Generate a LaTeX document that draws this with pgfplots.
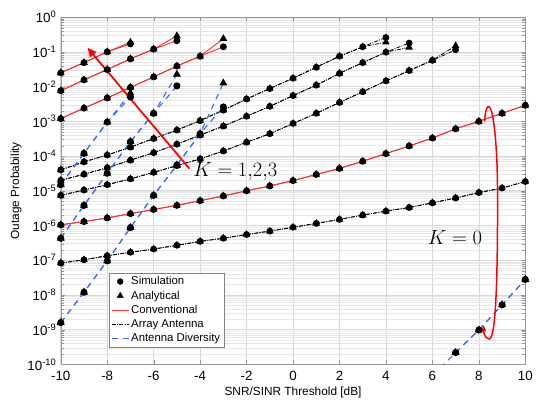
\documentclass[border=0pt]{standalone}
\usepackage{fontspec}
\setmainfont{Liberation Sans}
\usepackage{pgfplots}
\pgfplotsset{compat=1.18}
\usetikzlibrary{arrows.meta}

\definecolor{convred}{RGB}{245,45,45}
\definecolor{divblue}{RGB}{55,105,255}
\definecolor{gridgray}{RGB}{215,215,215}

\pgfplotsset{
  conv/.style={convred, line width=0.9bp, forget plot},
  arr/.style={black, line width=0.8bp, dash pattern=on 4bp off 1.3bp on 1bp off 1.3bp, forget plot},
  div/.style={divblue, line width=1.1bp, dash pattern=on 6bp off 5bp, forget plot},
  sim/.style={mark=*, mark size=3bp, mark options={solid, fill=black, draw=black}},
  ana/.style={mark=triangle*, mark size=3.6bp, mark options={solid, fill=black, draw=black}},
}

\begin{document}
\begin{tikzpicture}
\begin{axis}[
    scale only axis,
    width=468.7bp, height=350.4bp,
    ymode=log,
    xmin=-10, xmax=10,
    ymin=1e-10, ymax=1,
    xtick={-10,-8,...,10},
    xticklabels={-10,-8,-6,-4,-2,0,2,4,6,8,10},
    ytick={1e-10,1e-9,1e-8,1e-7,1e-6,1e-5,1e-4,1e-3,1e-2,1e-1,1},
    yticklabels={10\textsuperscript{-10},10\textsuperscript{-9},10\textsuperscript{-8},10\textsuperscript{-7},10\textsuperscript{-6},10\textsuperscript{-5},10\textsuperscript{-4},10\textsuperscript{-3},10\textsuperscript{-2},10\textsuperscript{-1},10\textsuperscript{0}},
    grid=both,
    major grid style={gridgray, line width=0.6bp},
    minor grid style={gridgray!60, line width=0.5bp},
    axis line style={gray!80},
    tick style={gray!80},
    tick label style={font=\fontsize{13.5}{15}\selectfont},
    xticklabel style={yshift=-3bp},
    yticklabel style={xshift=-1bp},
    xlabel={SNR/SINR Threshold [dB]},
    ylabel={Outage Probability},
    label style={font=\fontsize{12}{14}\selectfont},
    ylabel style={yshift=-1bp},
    legend style={at={(rel axis cs:0.104,0.2646)}, anchor=north west,
        font=\fontsize{11.5}{13}\selectfont, draw=gray, row sep=0.6bp,
        inner sep=2bp},
    legend cell align=left,
    clip=true,
]
\addlegendimage{only marks, sim}
\addlegendentry{Simulation}
\addlegendimage{only marks, ana}
\addlegendentry{Analytical}
\addlegendimage{convred, line width=0.9bp}
\addlegendentry{Conventional}
\addlegendimage{black, line width=0.8bp, dash pattern=on 4bp off 1.3bp on 1bp off 1.3bp}
\addlegendentry{Array Antenna}
\addlegendimage{divblue, line width=1.1bp, dash pattern=on 6bp off 5bp}
\addlegendentry{Antenna Diversity}

% ---- Conventional ----
% K=0
\addplot[conv, sim] coordinates {
 (-10,1.05e-6) (-9,1.3e-6) (-8,1.65e-6) (-7,2.2e-6) (-6,2.9e-6) (-5,3.8e-6) (-4,5.2e-6)
 (-3,7.1e-6) (-2,1e-5) (-1,1.38e-5) (0,1.96e-5) (1,2.95e-5) (2,4.4e-5) (3,7.1e-5)
 (4,1.18e-4) (5,1.95e-4) (6,3.3e-4) (7,6.1e-4) (8,1e-3) (9,1.7e-3) (10,2.9e-3)};
\addplot[conv, ana] coordinates {
 (-10,1.05e-6) (-9,1.3e-6) (-8,1.65e-6) (-7,2.2e-6) (-6,2.9e-6) (-5,3.8e-6) (-4,5.2e-6)
 (-3,7.1e-6) (-2,1e-5) (-1,1.38e-5) (0,1.96e-5) (1,2.95e-5) (2,4.4e-5) (3,7.1e-5)
 (4,1.18e-4) (5,1.95e-4) (6,3.3e-4) (7,6.1e-4) (8,1e-3) (9,1.7e-3) (10,2.9e-3)};
% K=1
\addplot[conv, sim] coordinates {
 (-10,0.0012) (-9,0.0024) (-8,0.0047) (-7,0.0095) (-6,0.019) (-5,0.039) (-4,0.075) (-3,0.14)};
\addplot[conv, ana] coordinates {
 (-10,0.0012) (-9,0.0024) (-8,0.0047) (-7,0.0095) (-6,0.019) (-5,0.039) (-4,0.075) (-3,0.24)};
% K=2
\addplot[conv, sim] coordinates {
 (-10,0.0076) (-9,0.0156) (-8,0.031) (-7,0.063) (-6,0.12) (-5,0.21)};
\addplot[conv, ana] coordinates {
 (-10,0.0076) (-9,0.0156) (-8,0.031) (-7,0.063) (-6,0.12) (-5,0.29)};
% K=3
\addplot[conv, sim] coordinates {
 (-10,0.025) (-9,0.049) (-8,0.1) (-7,0.17)};
\addplot[conv, ana] coordinates {
 (-10,0.025) (-9,0.049) (-8,0.1) (-7,0.19)};

% ---- Array antenna ----
% K=0
\addplot[arr, sim] coordinates {
 (-10,8.3e-8) (-9,1.03e-7) (-8,1.35e-7) (-7,1.7e-7) (-6,2.1e-7) (-5,2.7e-7) (-4,3.5e-7)
 (-3,4.3e-7) (-2,5.5e-7) (-1,6.9e-7) (0,8.9e-7) (1,1.15e-6) (2,1.5e-6) (3,2e-6)
 (4,2.6e-6) (5,3.3e-6) (6,4.5e-6) (7,6.2e-6) (8,8.9e-6) (9,1.2e-5) (10,1.85e-5)};
\addplot[arr, ana] coordinates {
 (-10,8.3e-8) (-9,1.03e-7) (-8,1.35e-7) (-7,1.7e-7) (-6,2.1e-7) (-5,2.7e-7) (-4,3.5e-7)
 (-3,4.3e-7) (-2,5.5e-7) (-1,6.9e-7) (0,8.9e-7) (1,1.15e-6) (2,1.5e-6) (3,2e-6)
 (4,2.6e-6) (5,3.3e-6) (6,4.5e-6) (7,6.2e-6) (8,8.9e-6) (9,1.2e-5) (10,1.85e-5)};
% K=1
\addplot[arr, sim] coordinates {
 (-10,7.4e-6) (-9,1.05e-5) (-8,1.5e-5) (-7,2.2e-5) (-6,3.4e-5) (-5,5.3e-5) (-4,8.3e-5)
 (-3,1.4e-4) (-2,2.5e-4) (-1,4.4e-4) (0,8.7e-4) (1,1.7e-3) (2,3.5e-3) (3,7.1e-3)
 (4,0.0146) (5,0.029) (6,0.057) (7,0.115)};
\addplot[arr, ana] coordinates {
 (-10,7.4e-6) (-9,1.05e-5) (-8,1.5e-5) (-7,2.2e-5) (-6,3.4e-5) (-5,5.3e-5) (-4,8.3e-5)
 (-3,1.4e-4) (-2,2.5e-4) (-1,4.4e-4) (0,8.7e-4) (1,1.7e-3) (2,3.5e-3) (3,7.1e-3)
 (4,0.0146) (5,0.029) (6,0.057) (7,0.15)};
% K=2
\addplot[arr, sim] coordinates {
 (-10,2e-5) (-9,3e-5) (-8,4.6e-5) (-7,7.6e-5) (-6,1.25e-4) (-5,2.2e-4) (-4,4e-4)
 (-3,7.3e-4) (-2,1.4e-3) (-1,2.7e-3) (0,5.5e-3) (1,0.011) (2,0.024) (3,0.049)
 (4,0.098) (5,0.18)};
\addplot[arr, ana] coordinates {
 (-10,2e-5) (-9,3e-5) (-8,4.6e-5) (-7,7.6e-5) (-6,1.25e-4) (-5,2.2e-4) (-4,4e-4)
 (-3,7.3e-4) (-2,1.4e-3) (-1,2.7e-3) (0,5.5e-3) (1,0.011) (2,0.024) (3,0.049)
 (4,0.098) (5,0.135)};
% K=3
\addplot[arr, sim] coordinates {
 (-10,4e-5) (-9,6.8e-5) (-8,1.07e-4) (-7,1.8e-4) (-6,3.2e-4) (-5,5.6e-4) (-4,1.05e-3)
 (-3,2.1e-3) (-2,4.4e-3) (-1,8.8e-3) (0,0.0174) (1,0.036) (2,0.075) (3,0.14) (4,0.26)};
\addplot[arr, ana] coordinates {
 (-10,4e-5) (-9,6.8e-5) (-8,1.07e-4) (-7,1.8e-4) (-6,3.2e-4) (-5,5.6e-4) (-4,1.05e-3)
 (-3,2.1e-3) (-2,4.4e-3) (-1,8.8e-3) (0,0.0174) (1,0.036) (2,0.075) (3,0.14) (4,0.19)};

% ---- Antenna diversity ----
% K=0
\addplot[div] coordinates {(6,4.8e-11) (7,2.2e-10)};
\addplot[div, sim] coordinates {(7,2.2e-10) (8,9.8e-10) (9,5.2e-9) (10,2.8e-8)};
\addplot[div, ana] coordinates {(7,2.2e-10) (8,9.8e-10) (9,5.2e-9) (10,2.8e-8)};
% K=1
\addplot[div, sim] coordinates {
 (-10,1.6e-9) (-9,1.2e-8) (-8,9.6e-8) (-7,8.7e-7) (-6,7.4e-6) (-5,5.5e-5) (-4,4.4e-4) (-3,0.0026)};
\addplot[div, ana] coordinates {
 (-10,1.6e-9) (-9,1.2e-8) (-8,9.6e-8) (-7,8.7e-7) (-6,7.4e-6) (-5,5.5e-5) (-4,4.4e-4) (-3,0.0126)};
% K=2
\addplot[div, sim] coordinates {
 (-10,4.3e-7) (-9,3.8e-6) (-8,3.2e-5) (-7,2.6e-4) (-6,1.7e-3) (-5,0.0105)};
\addplot[div, ana] coordinates {
 (-10,4.3e-7) (-9,3.8e-6) (-8,3.2e-5) (-7,2.6e-4) (-6,1.7e-3) (-5,0.0225)};
% K=3
\addplot[div, sim] coordinates {
 (-10,1.5e-5) (-9,1.2e-4) (-8,9.5e-4) (-7,0.005)};
\addplot[div, ana] coordinates {
 (-10,1.5e-5) (-9,1.2e-4) (-8,9.5e-4) (-7,0.0065)};

% annotations
\draw[red, line width=1.8bp, -{Triangle[length=9bp, width=8bp]}]
  (rel axis cs:0.2771,0.5636) -- (rel axis cs:0.0576,0.9116);
\node[anchor=west, inner sep=0pt, font=\fontsize{20}{22}\selectfont]
  at (rel axis cs:0.285,0.556) {$K = 1{,}2{,}3$};
\node[anchor=west, inner sep=0pt, font=\fontsize{20}{22}\selectfont]
  at (rel axis cs:0.790,0.3645) {$K = 0$};
\draw[red, line width=1.5bp, -{Triangle[length=6bp, width=5bp]}]
  (rel axis cs:0.9125,0.7003) .. controls (rel axis cs:0.914,0.735) and (rel axis cs:0.918,0.745) ..
  (rel axis cs:0.9221,0.742) .. controls (rel axis cs:0.93,0.737) and (rel axis cs:0.9403,0.65) ..
  (rel axis cs:0.9403,0.4786) .. controls (rel axis cs:0.9403,0.25) and (rel axis cs:0.937,0.07) ..
  (rel axis cs:0.9217,0.0733) .. controls (rel axis cs:0.912,0.075) and (rel axis cs:0.910,0.095) ..
  (rel axis cs:0.9104,0.1133);

\coordinate (bbsw) at (rel axis cs:-0.1308,-0.1007);
\coordinate (bbne) at (rel axis cs:1.0128,1.0494);
\end{axis}
\path (bbsw) rectangle (bbne);
\end{tikzpicture}
\end{document}
